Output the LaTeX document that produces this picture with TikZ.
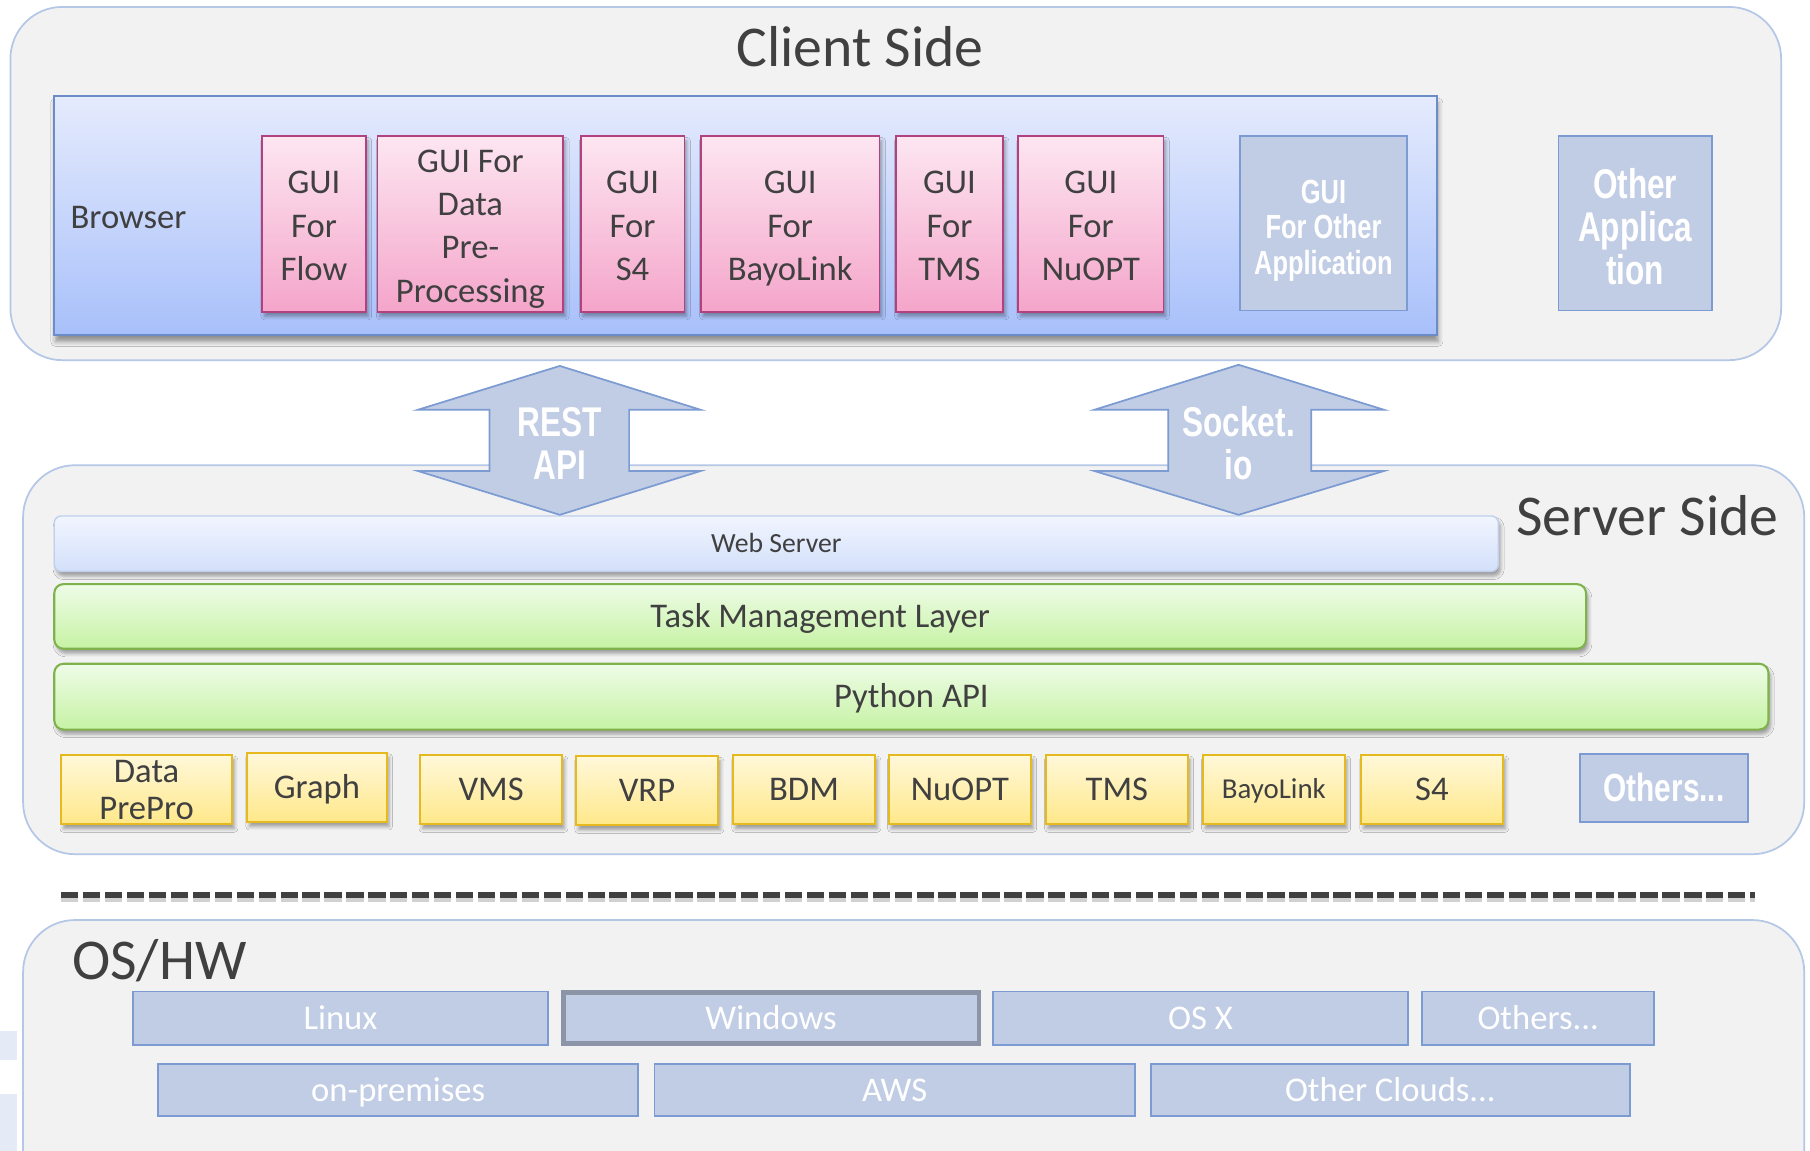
\documentclass[tikz,border=0pt]{standalone}
\usepackage{fontspec}
\setmainfont{Carlito}
\newfontfamily\condfont[FakeStretch=0.76]{Liberation Sans}
\usetikzlibrary{shadows.blur}
\newcommand\myfs[2]{\fontsize{#1}{#2}\selectfont}
\newcommand\ptop{\rule{0pt}{28pt}}
\newcommand\pbot{\vphantom{gy}}
\definecolor{panelfill}{HTML}{F2F2F2}
\definecolor{panelborder}{HTML}{B4C7E7}
\definecolor{txt}{HTML}{404040}
\definecolor{brtop}{HTML}{E5EBFD}
\definecolor{brbot}{HTML}{A8C0FA}
\definecolor{brborder}{HTML}{6C8CC8}
\definecolor{pktop}{HTML}{FDE6F1}
\definecolor{pkbot}{HTML}{F4A5CA}
\definecolor{pkborder}{HTML}{B3407F}
\definecolor{gbfill}{HTML}{C1CDE5}
\definecolor{gbborder}{HTML}{7C9BD2}
\definecolor{winborder}{HTML}{8C95A7}
\definecolor{wstop}{HTML}{F1F5FE}
\definecolor{wsbot}{HTML}{D3E0FA}
\definecolor{wsborder}{HTML}{BFCFEC}
\definecolor{grtop}{HTML}{EEFCE7}
\definecolor{grbot}{HTML}{C6F2A4}
\definecolor{grborder}{HTML}{7FB14C}
\definecolor{yltop}{HTML}{FFF8DA}
\definecolor{ylbot}{HTML}{FFE88A}
\definecolor{ylborder}{HTML}{E6B91E}
\definecolor{dashcol}{HTML}{404040}
\definecolor{patch}{HTML}{E4EAF6}
\tikzset{
  sh/.style={blur shadow={shadow xshift=2pt, shadow yshift=-4pt, shadow blur radius=3pt, shadow opacity=35}},
  panel/.style={draw=panelborder, fill=panelfill, line width=1.5pt, rounded corners=45pt, inner sep=0pt},
  title/.style={text=txt, font=\myfs{50}{58}, inner sep=0pt},
  browserbox/.style={draw=brborder, line width=1.5pt, top color=brtop, bottom color=brbot, inner sep=0pt, blur shadow={shadow xshift=1pt, shadow yshift=-6pt, shadow blur radius=4pt, shadow opacity=40}},
  pinkbox/.style={draw=pkborder, line width=1.5pt, top color=pktop, bottom color=pkbot, inner sep=0pt, align=center, text=txt, font=\myfs{30}{37.5}, sh},
  greybox/.style={draw=gbborder, line width=1.5pt, fill=gbfill, inner sep=0pt, align=center, text=white},
  wsbox/.style={draw=wsborder, line width=1.2pt, top color=wstop, bottom color=wsbot, rounded corners=6pt, inner sep=0pt, text=txt, font=\myfs{24}{28}, text height=15.5pt, text depth=0pt, sh},
  greenbox/.style={draw=grborder, line width=1.8pt, top color=grtop, bottom color=grbot, rounded corners=8pt, inner sep=0pt, text=txt, font=\myfs{30}{36}, text height=19.5pt, text depth=0pt, sh},
  yellowbox/.style={draw=ylborder, line width=1.8pt, top color=yltop, bottom color=ylbot, inner sep=0pt, align=center, text=txt, font=\myfs{30}{32}, text height=19.5pt, text depth=0pt, minimum width=123pt, minimum height=60pt, sh},
  osbox/.style={draw=gbborder, line width=1.5pt, fill=gbfill, inner sep=0pt, text=white, font=\myfs{30}{36}, text height=19.5pt, text depth=0pt},
  bigarrow/.style={draw=gbborder, line width=1.5pt, fill=gbfill},
  arrowtext/.style={text=white, font=\condfont\bfseries\myfs{36}{37}, align=center, inner sep=0pt},
}
\begin{document}
\begin{tikzpicture}[x=1pt, y=-1pt]
\useasboundingbox (0,0) rectangle (1568,997);
\clip (0,0) rectangle (1568,997);
\fill[white] (0,0) rectangle (1568,997);
\fill[patch] (0,893) rectangle (15,918);
\fill[patch] (0,948) rectangle (15,997);

% ---------- Client side ----------
\node[panel, minimum width=1534pt, minimum height=306pt] (client) at (776,159) {};
\node[title] (clienttitle) at (745,40) {Client Side};
\node[browserbox, minimum width=1198pt, minimum height=207pt] (browser) at (646,186.5) {};
\node[anchor=west, text=txt, font=\myfs{30}{36}, inner sep=0pt] (browserlabel) at (61,188) {Browser};
\node[pinkbox, minimum width=90pt, minimum height=152pt] (gflow) at (272,194) {\ptop GUI\\For\\Flow\pbot};
\node[pinkbox, minimum width=161pt, minimum height=152pt] (gdpp) at (407.5,194) {\ptop GUI For\\Data\\Pre-\\Processing\pbot};
\node[pinkbox, minimum width=90pt, minimum height=152pt] (gs4) at (548,194) {\ptop GUI\\For\\S4\pbot};
\node[pinkbox, minimum width=155pt, minimum height=152pt] (gbayo) at (684.5,194) {\ptop GUI\\For\\BayoLink\pbot};
\node[pinkbox, minimum width=93pt, minimum height=152pt] (gtms) at (822.5,194) {\ptop GUI\\For\\TMS\pbot};
\node[pinkbox, minimum width=126pt, minimum height=152pt] (gnuopt) at (945,194) {\ptop GUI\\For\\NuOPT\pbot};
\node[greybox, minimum width=145pt, minimum height=151pt, font=\condfont\bfseries\myfs{29}{31}] (gother) at (1146.5,193.5) {\rule{0pt}{33pt}GUI\\For Other\\Application};
\node[greybox, minimum width=133pt, minimum height=151pt, font=\condfont\bfseries\myfs{36}{37.5}] (otherapp) at (1416.5,193.5) {\rule{0pt}{32pt}Other\\Applica\\tion};

% ---------- Server side ----------
\node[panel, minimum width=1543pt, minimum height=337pt] (server) at (791.5,571.5) {};
\node[title] (servertitle) at (1427,447) {Server Side};
\node[wsbox, minimum width=1251pt, minimum height=48pt] (web) at (672.5,471) {Web Server};
\node[greenbox, minimum width=1327pt, minimum height=56pt] (task) at (710.5,534) {Task Management Layer};
\node[greenbox, minimum width=1485pt, minimum height=57pt] (python) at (789.5,603.5) {Python API};
\node[yellowbox, minimum width=148pt, text height={}, text depth={}] (dpre) at (127,684) {Data\\PrePro};
\node[yellowbox, minimum width=121pt] (graph) at (274.5,682) {Graph};
\node[yellowbox] (vms) at (425.5,684) {VMS};
\node[yellowbox] (vrp) at (560.5,685) {VRP};
\node[yellowbox] (bdm) at (696.5,684) {BDM};
\node[yellowbox] (nuopt) at (831.5,684) {NuOPT};
\node[yellowbox] (tms) at (967.5,684) {TMS};
\node[yellowbox, font=\myfs{25}{30}, text height=16pt] (bayo) at (1103.5,684) {BayoLink};
\node[yellowbox] (s4) at (1240.5,684) {S4};
\node[greybox, minimum width=145pt, minimum height=59pt, font=\condfont\bfseries\myfs{34}{36}, text height=24pt, text depth=0pt] (others) at (1441.5,682.5) {Others...};

% ---------- Arrows ----------
\path[bigarrow] (485,317) -- (607,355) -- (545,355) -- (545,408) -- (607,408) -- (485,446) -- (362,408) -- (424,408) -- (424,355) -- (362,355) -- cycle;
\node[arrowtext] (rest) at (485,384) {REST\\API};
\path[bigarrow] (1073,316) -- (1199,355) -- (1136,355) -- (1136,408) -- (1199,408) -- (1073,446) -- (948,408) -- (1012,408) -- (1012,355) -- (948,355) -- cycle;
\node[arrowtext] (socket) at (1073,384) {Socket.\\io};

% ---------- Dashed separator ----------
\coordinate (dl) at (53,775);
\coordinate (dr) at (1520,775);
\draw[black, opacity=0.18, line width=5pt, dash pattern=on 15pt off 4pt, transform canvas={yshift=-4pt}] (dl) -- (dr);
\draw[dashcol, line width=5pt, dash pattern=on 15pt off 4pt] (dl) -- (dr);

% ---------- OS/HW ----------
\node[panel, minimum width=1543pt, minimum height=253pt] (os) at (791.5,923.5) {};
\node[title] (ostitle) at (138,832) {OS/HW};
\node[osbox, minimum width=360pt, minimum height=46pt] (linux) at (295,882) {Linux};
\node[osbox, draw=winborder, line width=4pt, minimum width=360pt, minimum height=44pt] (windows) at (668,882) {Windows};
\node[osbox, minimum width=360pt, minimum height=46pt] (osx) at (1040,882) {OS X};
\node[osbox, minimum width=201pt, minimum height=46pt] (othersos) at (1332.5,882) {Others...};
\node[osbox, minimum width=416pt, minimum height=45pt] (onprem) at (345,944.5) {on-premises};
\node[osbox, minimum width=416pt, minimum height=45pt] (aws) at (775,944.5) {AWS};
\node[osbox, minimum width=415pt, minimum height=45pt] (clouds) at (1204.5,944.5) {Other Clouds...};
\end{tikzpicture}
\end{document}
